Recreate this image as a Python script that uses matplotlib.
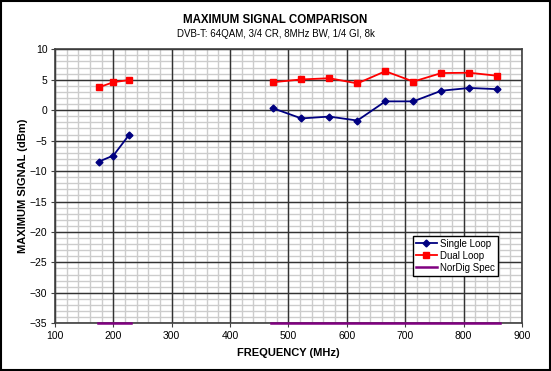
import matplotlib
matplotlib.use("Agg")
import matplotlib.pyplot as plt
from matplotlib.ticker import MultipleLocator
from matplotlib.patches import Rectangle

plt.rcParams['font.family'] = ['Liberation Sans', 'DejaVu Sans']

# Data
vhf_freq = [175, 200, 227]
vhf_single = [-8.45, -7.45, -4.05]
vhf_dual = [3.75, 4.6, 4.95]

uhf_freq = [474, 522, 570, 618, 666, 714, 762, 810, 858]
uhf_single = [0.3, -1.35, -1.05, -1.7, 1.45, 1.45, 3.2, 3.65, 3.45]
uhf_dual = [4.6, 5.05, 5.25, 4.4, 6.4, 4.7, 6.1, 6.15, 5.65]

nordig_vhf = [174, 230]
nordig_uhf = [470, 862]
nordig_level = -35

title = "MAXIMUM SIGNAL COMPARISON"
subtitle = "DVB-T: 64QAM, 3/4 CR, 8MHz BW, 1/4 GI, 8k"
xlabel = "FREQUENCY (MHz)"
ylabel = "MAXIMUM SIGNAL (dBm)"

fig = plt.figure(figsize=(5.51, 3.71), dpi=100)
fig.patch.set_facecolor('white')
fig.add_artist(Rectangle((0.001, 0.002), 0.997, 0.996, transform=fig.transFigure,
                         fill=False, edgecolor='black', linewidth=1.5))

pos = [0.0998, 0.1286, 0.8475, 0.7385]

# background axes: minor grid only
bg = fig.add_axes(pos)
bg.set_xlim(100, 900)
bg.set_ylim(-35, 10)
bg.xaxis.set_major_locator(MultipleLocator(20))
bg.yaxis.set_major_locator(MultipleLocator(1))
bg.grid(True, color='#cccccc', linewidth=1.0)
bg.tick_params(length=0, labelleft=False, labelbottom=False)
for s in bg.spines.values():
    s.set_visible(False)

ax = fig.add_axes(pos)
ax.patch.set_alpha(0)
ax.set_xlim(100, 900)
ax.set_ylim(-35, 10)
ax.xaxis.set_major_locator(MultipleLocator(100))
ax.yaxis.set_major_locator(MultipleLocator(5))
ax.grid(which='major', color='#333333', linewidth=1.0)
ax.set_axisbelow(True)
ax.tick_params(which='major', length=3, labelsize=7.5, color='#404040', pad=2.5)
for s in ax.spines.values():
    s.set_color('#404040')
    s.set_linewidth(1.2)

navy = '#000080'
red = '#ff0000'
purple = '#800080'

ax.plot(vhf_freq, vhf_single, color=navy, marker='D', markersize=3.5, linewidth=1.3,
        label='Single Loop', clip_on=False)
ax.plot(uhf_freq, uhf_single, color=navy, marker='D', markersize=3.5, linewidth=1.3,
        clip_on=False)
ax.plot(vhf_freq, vhf_dual, color=red, marker='s', markersize=4, linewidth=1.3,
        label='Dual Loop', clip_on=False)
ax.plot(uhf_freq, uhf_dual, color=red, marker='s', markersize=4, linewidth=1.3,
        clip_on=False)
ax.plot(nordig_vhf, [nordig_level] * 2, color=purple, linewidth=1.8,
        label='NorDig Spec', clip_on=False, zorder=5)
ax.plot(nordig_uhf, [nordig_level] * 2, color=purple, linewidth=1.8,
        clip_on=False, zorder=5)

leg = ax.legend(loc='lower left', bbox_to_anchor=(0.766, 0.174), fontsize=7,
                frameon=True, fancybox=False, borderpad=0.3, labelspacing=0.2,
                handlelength=2.2, handletextpad=0.3, borderaxespad=0)
leg.get_frame().set_edgecolor('black')
leg.get_frame().set_linewidth(1.0)
leg.get_frame().set_alpha(1)

ax.set_xlabel(xlabel, fontsize=8, fontweight='bold', labelpad=5)
ax.set_ylabel(ylabel, fontsize=8, fontweight='bold', labelpad=1)

fig.text(0.5, 0.947, title, ha='center', va='center', fontsize=8.3, fontweight='bold')
fig.text(0.5, 0.908, subtitle, ha='center', va='center', fontsize=7)

fig.savefig('out.png', dpi=100)
